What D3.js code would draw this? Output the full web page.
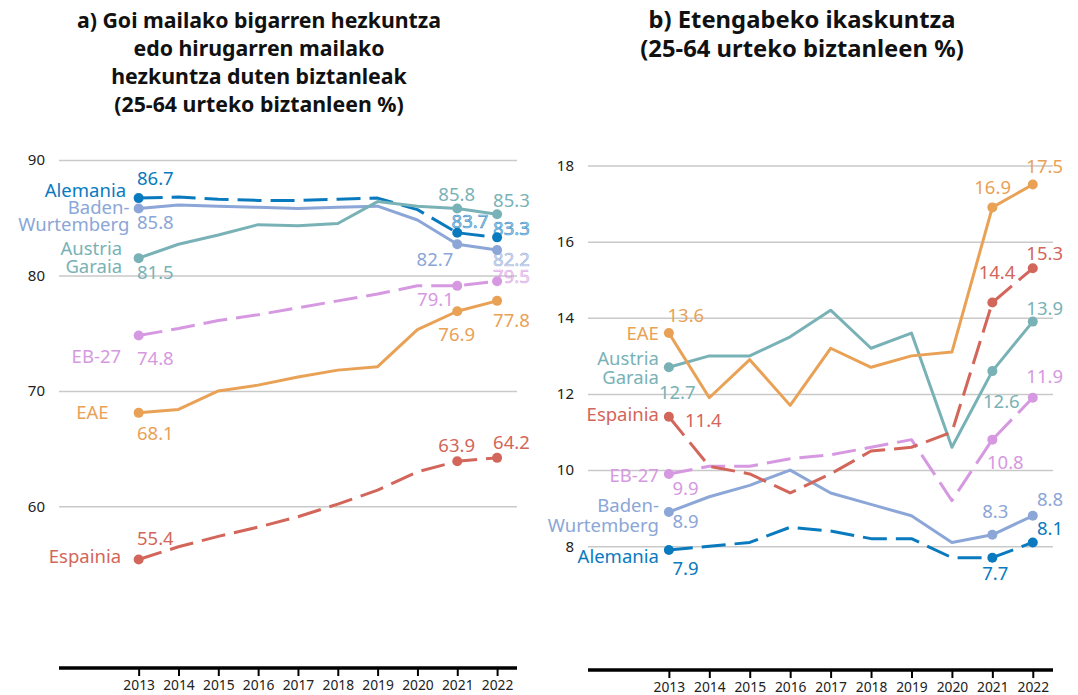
<!DOCTYPE html>
<html><head><meta charset="utf-8">
<script src="https://cdn.jsdelivr.net/npm/d3@7"></script>
<style>
body{margin:0;background:#fff;}
text{font-family:"Noto Sans","Open Sans",sans-serif;}
</style></head><body>
<svg id="chart" width="1078" height="695"></svg>
<script>
// ---------- DATA ----------
const years = [2013, 2014, 2015, 2016, 2017, 2018, 2019, 2020, 2021, 2022];
const seriesNames = ["Alemania", "Baden-Wurtemberg", "Austria Garaia", "EB-27", "EAE", "Espainia"];
const nameLines = [["Alemania"], ["Baden-", "Wurtemberg"], ["Austria", "Garaia"], ["EB-27"], ["EAE"], ["Espainia"]];

// a) Higher secondary or tertiary education (% of 25-64)
const tertAlemania = [86.7, 86.8, 86.6, 86.5, 86.5, 86.6, 86.7, 85.7, 83.7, 83.3];
const tertBaden    = [85.8, 86.1, 86.0, 85.9, 85.8, 85.9, 86.0, 84.8, 82.7, 82.2];
const tertAustria  = [81.5, 82.7, 83.5, 84.4, 84.3, 84.5, 86.4, 86.0, 85.8, 85.3];
const tertEU       = [74.8, 75.4, 76.1, 76.6, 77.2, 77.8, 78.4, 79.1, 79.1, 79.5];
const tertEAE      = [68.1, 68.4, 70.0, 70.5, 71.2, 71.8, 72.1, 75.3, 76.9, 77.8];
const tertSpain    = [55.4, 56.5, 57.4, 58.2, 59.1, 60.2, 61.4, 63.0, 63.9, 64.2];
const tertTicks    = [60, 70, 80, 90];

// b) Lifelong learning (% of 25-64)
const llAlemania = [7.9, 8.0, 8.1, 8.5, 8.4, 8.2, 8.2, 7.7, 7.7, 8.1];
const llBaden    = [8.9, 9.3, 9.6, 10.0, 9.4, 9.1, 8.8, 8.1, 8.3, 8.8];
const llAustria  = [12.7, 13.0, 13.0, 13.5, 14.2, 13.2, 13.6, 10.6, 12.6, 13.9];
const llEU       = [9.9, 10.1, 10.1, 10.3, 10.4, 10.6, 10.8, 9.2, 10.8, 11.9];
const llEAE      = [13.6, 11.9, 12.9, 11.7, 13.2, 12.7, 13.0, 13.1, 16.9, 17.5];
const llSpain    = [11.4, 10.1, 9.9, 9.4, 9.9, 10.5, 10.6, 11.0, 14.4, 15.3];
const llTicks    = [8, 10, 12, 14, 16, 18];

const titleA = ["a) Goi mailako bigarren hezkuntza", "edo hirugarren mailako", "hezkuntza duten biztanleak", "(25-64 urteko biztanleen %)"];
const titleB = ["b) Etengabeko ikaskuntza", "(25-64 urteko biztanleen %)"];

// ---------- STYLE / LAYOUT ----------
const colors = ["#0a7abf", "#8ba6d7", "#79b2b6", "#d699e1", "#e9a156", "#d3665a"];
const dashed = [true, false, false, true, false, true];

const panels = [
  {
    title: titleA, titleX: 259, titleSize: 21.3, titleBase: 28, titleStep: 28,
    series: [tertAlemania, tertBaden, tertAustria, tertEU, tertEAE, tertSpain],
    ticks: tertTicks, yDomain: [46, 90], yRange: [668, 160],
    xRange: [59, 517], axisY: 668,
    startOff: [[16.7, -13.3], [16.7, 20.3], [16.7, 21], [16.7, 29.3], [16.7, 27.3], [16.7, -14.3]],
    midOff: [[12.7, -4.4], [-22.3, 21.4], [-0.6, -7.5], [-21.8, 20.3], [-0.6, 30], [-0.6, -9.3]],
    endDx: 32.7, endDy: [-2.3, 16, -7.3, 1.3, 25.7, -8.4],
    nameDx: [-12.6, -9.3, -16.6, -17.6, -30, -17.6],
    nameDy: [[-1.3], [6, 22.7], [-3.3, 14.4], [27.6], [6.6], [4]],
    faded: {"0-8": 1, "0-9": 1, "1-9": 1, "3-9": 1}
  },
  {
    title: titleB, titleX: 802, titleSize: 23.8, titleBase: 28, titleStep: 29,
    series: [llAlemania, llBaden, llAustria, llEU, llEAE, llSpain],
    ticks: llTicks, yDomain: [4.75, 18], yRange: [670, 165.5],
    xRange: [588, 1053], axisY: 670,
    startOff: [[16.7, 25], [16.7, 16], [8.4, 31.6], [16.7, 20.7], [17, -10.6], [34.5, 10]],
    midOff: [[3, 22], [3, -17], [9, 37.3], [13, 29], [0.3, -13.7], [4.7, -23.4]],
    endDx: 30.3, endDy: [-7, -9.7, -7, -14.4, -12, -8.3],
    nameDx: [-10, -10, -10, -10, -10, -10],
    nameDy: [[13.3], [0.4, 20.4], [-2.7, 16.3], [8.4], [7.4], [4.4]],
    faded: {}
  }
];

const svg = d3.select("#chart");
const fmt = d3.format(".1f");

panels.forEach(p => {
  const g = svg.append("g");
  const x = d3.scaleLinear().domain([2011, 2022.5]).range(p.xRange);
  const y = d3.scaleLinear().domain(p.yDomain).range(p.yRange);

  // title
  g.append("g").selectAll("text").data(p.title).join("text")
    .attr("x", p.titleX).attr("y", (d, i) => p.titleBase + i * p.titleStep)
    .attr("text-anchor", "middle").attr("font-weight", 700)
    .attr("font-size", p.titleSize).attr("fill", "#111").text(d => d);

  // grid + y labels
  const yAxis = d3.axisLeft(y).tickValues(p.ticks).tickSize(-(p.xRange[1] - p.xRange[0])).tickPadding(14);
  const ya = g.append("g").attr("transform", `translate(${p.xRange[0]},0)`).call(yAxis);
  ya.select(".domain").remove();
  ya.selectAll(".tick line").attr("stroke", "#c9c9c9").attr("stroke-width", 1.5);
  ya.selectAll(".tick text").attr("font-size", 15).attr("fill", "#222")
    .attr("font-family", '"Noto Sans",sans-serif');

  // x axis
  const xAxis = d3.axisBottom(x).tickValues(years).tickFormat(d3.format("d")).tickSize(8).tickPadding(4);
  const xa = g.append("g").attr("transform", `translate(0,${p.axisY})`).call(xAxis);
  xa.select(".domain").attr("stroke", "#000").attr("stroke-width", 3.3)
    .attr("d", `M${p.xRange[0]},0H${p.xRange[1]}`);
  xa.selectAll(".tick line").attr("stroke", "#000").attr("stroke-width", 2);
  xa.selectAll(".tick text").attr("font-size", 13.8).attr("fill", "#222")
    .attr("font-family", '"Noto Sans",sans-serif');

  const line = d3.line().x((d, i) => x(years[i])).y(d => y(d));

  // lines
  p.series.forEach((vals, s) => {
    g.append("path").datum(vals).attr("d", line)
      .attr("fill", "none").attr("stroke", colors[s]).attr("stroke-width", 3)
      .attr("stroke-linejoin", "round")
      .attr("stroke-dasharray", dashed[s] ? "24,9" : null);
  });

  // dots
  const dotIdx = [0, 8, 9];
  p.series.forEach((vals, s) => {
    g.append("g").selectAll("circle").data(dotIdx).join("circle")
      .attr("cx", i => x(years[i])).attr("cy", i => y(vals[i])).attr("r", 5)
      .attr("fill", colors[s]);
  });

  // value labels
  p.series.forEach((vals, s) => {
    const specs = [
      {i: 0, dx: p.startOff[s][0], dy: p.startOff[s][1], anchor: "middle"},
      {i: 8, dx: p.midOff[s][0], dy: p.midOff[s][1], anchor: "middle"},
      {i: 9, dx: p.endDx, dy: p.endDy[s], anchor: "end"}
    ];
    specs.forEach(sp => {
      const t = g.append("text")
        .attr("x", x(years[sp.i]) + sp.dx).attr("y", y(vals[sp.i]) + sp.dy)
        .attr("text-anchor", sp.anchor).attr("font-size", 18.5)
        .attr("fill", colors[s]).text(fmt(vals[sp.i]));
      if (p.faded[s + "-" + sp.i]) {
        t.attr("fill-opacity", 0.35).attr("stroke", colors[s])
         .attr("stroke-width", 0.7).attr("stroke-opacity", 0.75);
      }
    });
    // series name
    const nt = g.append("text").attr("text-anchor", "end").attr("font-size", 18.5).attr("fill", colors[s]);
    nameLines[s].forEach((ln, k) => {
      nt.append("tspan").attr("x", x(years[0]) + p.nameDx[s])
        .attr("y", y(vals[0]) + p.nameDy[s][k]).text(ln);
    });
  });
});
</script>
</body></html>
